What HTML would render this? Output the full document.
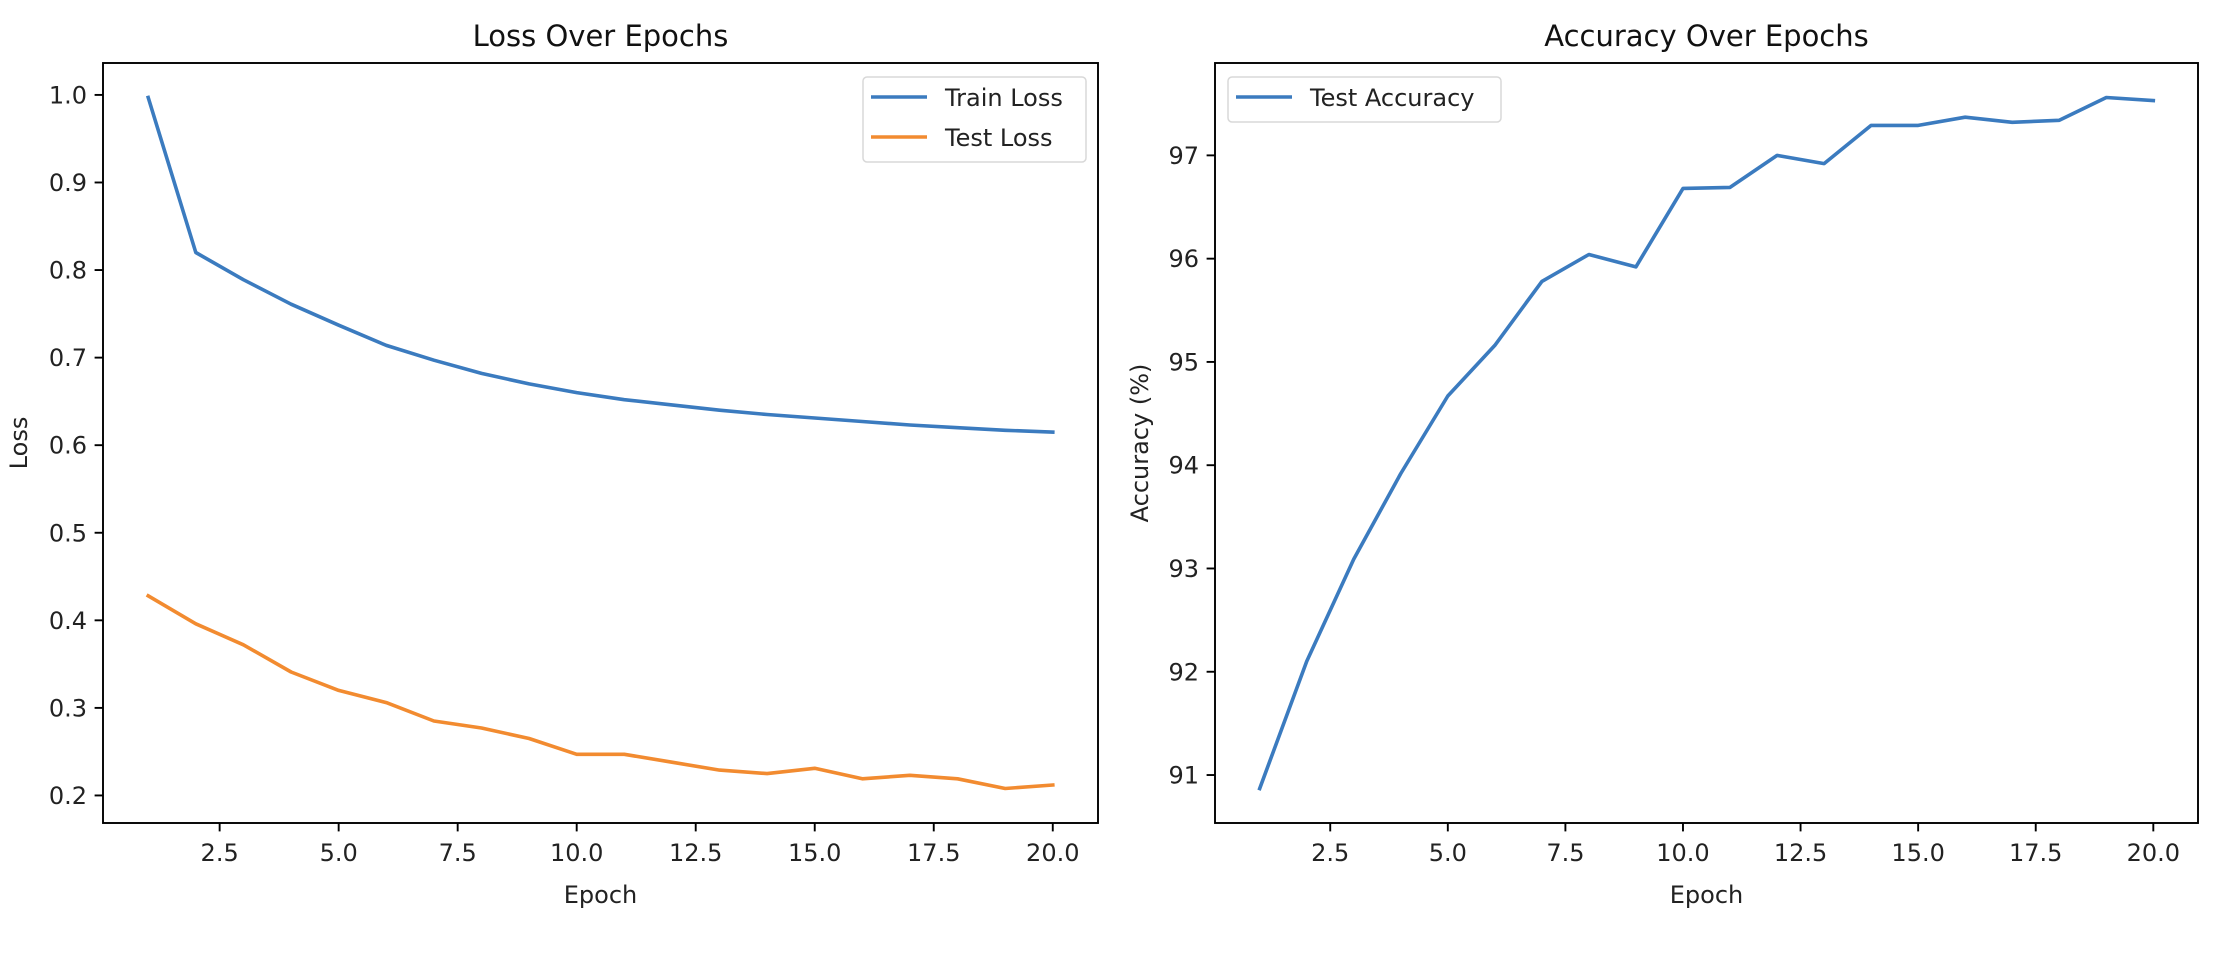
<!DOCTYPE html>
<html><head><meta charset="utf-8"><style>
html,body{margin:0;padding:0;background:#fff}
svg{display:block;font-family:"DejaVu Sans","Liberation Sans",sans-serif}
</style></head><body>
<svg id="fig" width="2232" height="954" viewBox="0 0 2232 954"></svg>
<script>
const epochs=[1,2,3,4,5,6,7,8,9,10,11,12,13,14,15,16,17,18,19,20];
const trainLoss=[0.997,0.820,0.789,0.761,0.737,0.714,0.697,0.682,0.670,0.660,0.652,0.646,0.640,0.635,0.631,0.627,0.623,0.620,0.617,0.615];
const testLoss=[0.428,0.396,0.372,0.341,0.320,0.306,0.285,0.277,0.265,0.247,0.247,0.238,0.229,0.225,0.231,0.219,0.223,0.219,0.208,0.212];
const testAcc=[90.87,92.10,93.09,93.92,94.67,95.16,95.78,96.04,95.92,96.68,96.69,97.00,96.92,97.29,97.29,97.37,97.32,97.34,97.56,97.53];
const xTicks=[2.5,5.0,7.5,10.0,12.5,15.0,17.5,20.0];
const lossTicks=[0.2,0.3,0.4,0.5,0.6,0.7,0.8,0.9,1.0];
const accTicks=[91,92,93,94,95,96,97];

const NS="http://www.w3.org/2000/svg";
const svg=document.getElementById('fig');
function mk(tag,attrs,parent){const e=document.createElementNS(NS,tag);for(const k in attrs)e.setAttribute(k,attrs[k]);(parent||svg).appendChild(e);return e;}
function ext(a){let mn=Math.min(...a),mx=Math.max(...a),m=(mx-mn)*0.05;return[mn-m,mx+m];}

function panel(o){
  const g=mk('g',{});
  
  
  const [x0,x1]=ext(epochs);
  const all=[].concat(...o.series.map(s=>s.data));
  const [y0,y1]=ext(all);
  const X=v=>o.L+(v-x0)/(x1-x0)*(o.R-o.L);
  const Y=v=>o.B-(v-y0)/(y1-y0)*(o.B-o.T);
  o.series.forEach(s=>{
    const p=mk('polyline',{points:epochs.map((e,i)=>X(e).toFixed(1)+','+Y(s.data[i]).toFixed(1)).join(' '),fill:'none',stroke:s.color,'stroke-width':3.6,'stroke-linejoin':'round','stroke-linecap':'square'},g);
    
    
  });
  const fr=mk('rect',{x:o.L,y:o.T,width:o.R-o.L,height:o.B-o.T,fill:'none',stroke:'#000','stroke-width':1.9},g);
  
  
  xTicks.forEach(t=>{
    const x=X(t);
    mk('line',{x1:x,x2:x,y1:o.B,y2:o.B+8.4,stroke:'#000','stroke-width':1.9},g);
    const tx=mk('text',{x:x,y:o.B+38,'text-anchor':'middle','font-size':24,fill:'#222'},g);
    tx.textContent=t.toFixed(1);
    
    
  });
  o.yTicks.forEach(t=>{
    const y=Y(t);
    mk('line',{x1:o.L-8.4,x2:o.L,y1:y,y2:y,stroke:'#000','stroke-width':1.9},g);
    const tx=mk('text',{x:o.L-16,y:y+8.5,'text-anchor':'end','font-size':24,fill:'#222'},g);
    tx.textContent=o.fmt(t);
    
    
  });
  const ti=mk('text',{x:(o.L+o.R)/2,y:46,'text-anchor':'middle','font-size':29,fill:'#111'},g);
  ti.textContent=o.title;
  
  
  const xl=mk('text',{x:(o.L+o.R)/2,y:903,'text-anchor':'middle','font-size':24,fill:'#222'},g);
  xl.textContent='Epoch';
  
  
  const yl=mk('text',{x:0,y:0,'text-anchor':'middle','font-size':24,fill:'#222',transform:`translate(${o.ylx},${(o.T+o.B)/2}) rotate(-90)`},g);
  yl.textContent=o.ylabel;
  
  
  const lg=mk('g',{},g);
  
  
  mk('rect',{x:o.lx,y:77,width:o.lw,height:o.series.length*40+5,rx:4,fill:'#fff',stroke:'#d8d8d8','stroke-width':1.5},lg);
  o.series.forEach((s,i)=>{
    const y=97+i*40;
    const ln=mk('line',{x1:o.lx+8,x2:o.lx+64,y1:y,y2:y,stroke:s.color,'stroke-width':3.6},lg);
    
    
    const tx=mk('text',{x:o.lx+82,y:y+9,'font-size':24,fill:'#222'},lg);
    tx.textContent=s.label;
    
    
  });
}
panel({name:'loss-chart',L:103,R:1098,T:63,B:823,title:'Loss Over Epochs',ylabel:'Loss',ylx:27,
  yTicks:lossTicks,fmt:t=>t.toFixed(1),lx:863,lw:223,
  series:[{key:'train-loss',label:'Train Loss',data:trainLoss,color:'#3b7bbf'},{key:'test-loss',label:'Test Loss',data:testLoss,color:'#f28b30'}]});
panel({name:'accuracy-chart',L:1215,R:2198,T:63,B:823,title:'Accuracy Over Epochs',ylabel:'Accuracy (%)',ylx:1148,
  yTicks:accTicks,fmt:t=>String(t),lx:1228,lw:273,
  series:[{key:'test-accuracy',label:'Test Accuracy',data:testAcc,color:'#3b7bbf'}]});
</script>
</body></html>
